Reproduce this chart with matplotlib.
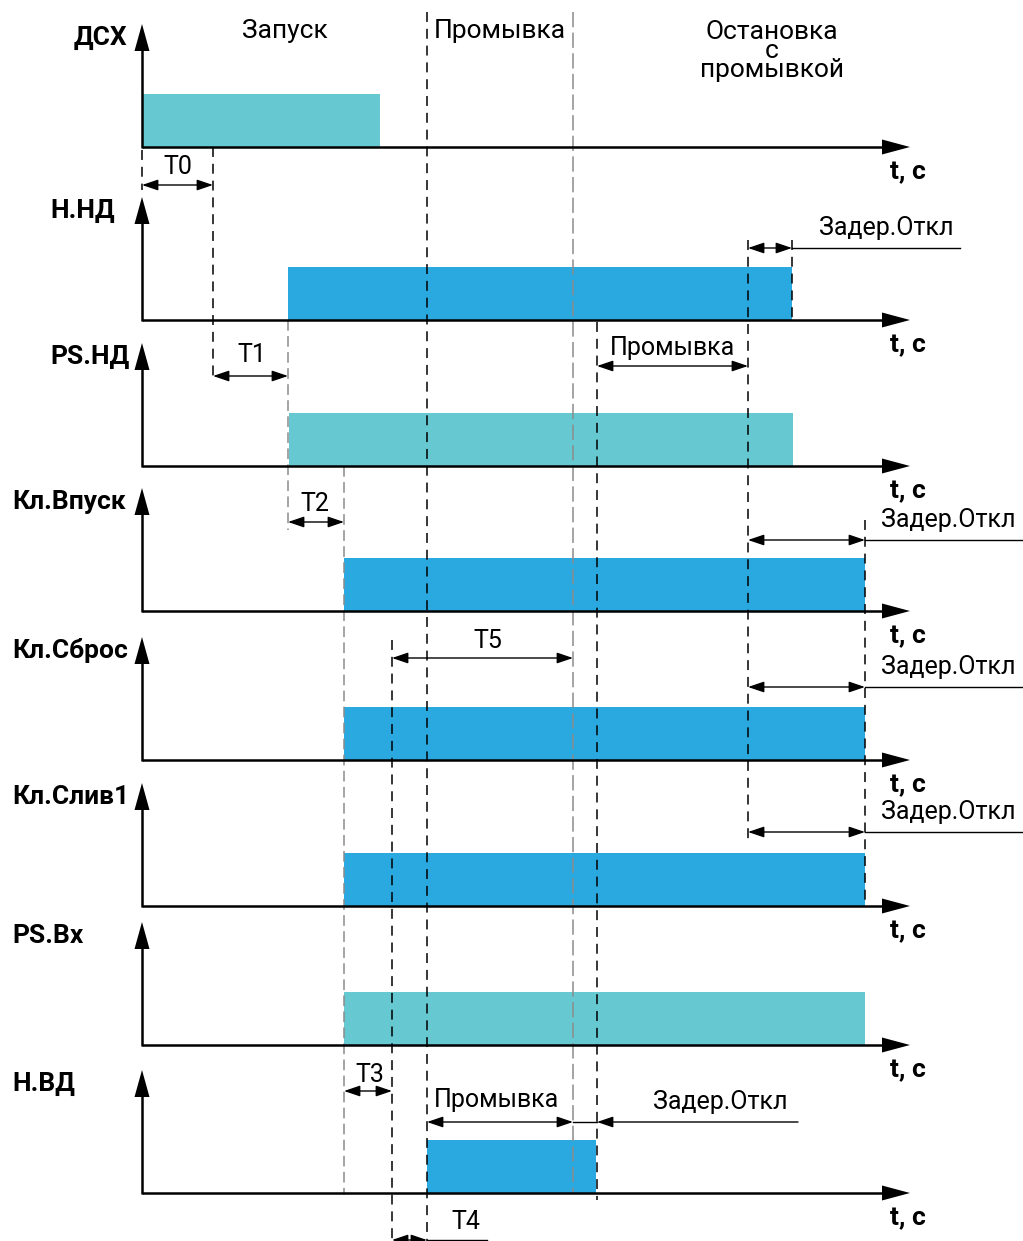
import matplotlib.pyplot as plt

# сигналы и интервалы включения (время в условных единицах, 0 = начало оси)
signals = ['ДСХ', 'Н.НД', 'PS.НД', 'Кл.Впуск', 'Кл.Сброс', 'Кл.Слив1', 'PS.Вх', 'Н.ВД']
on_start = [1, 146, 147, 202, 202, 202, 202, 285]
on_end = [238, 650, 651, 723, 723, 723, 723, 454]
kind = ['ps', 'out', 'ps', 'out', 'out', 'out', 'ps', 'out']

# моменты событий
t_T0, t_T1, t_T2, t_T3, t_T4 = 71, 146, 202, 250, 285
t_T5 = 431
t_flush_end = 455
t_stop = 606
t_nnd_off = 650
t_valve_off = 723
t_axis_end = 768

phases = ['Запуск', 'Промывка', 'Остановка\nс\nпромывкой']

W, H = 1023, 1241
X0 = 142
baselines = [147, 320, 466, 611, 760, 906, 1045, 1193]
label_left = [74, 50, 50, 12, 12, 12, 12, 12]
BAR_H = 53

C_PS = '#66C8D0'
C_OUT = '#29A9E0'
GREY = '#8c8c8c'

plt.rcParams['font.family'] = ['Roboto', 'DejaVu Sans']

fig = plt.figure(figsize=(W / 100, H / 100), dpi=100)
ax = fig.add_axes([0, 0, 1, 1])
ax.set_xlim(-X0, W - X0)
ax.set_ylim(H, 0)
ax.axis('off')

# оси и полосы
for i, name in enumerate(signals):
    y0 = baselines[i]
    color = C_PS if kind[i] == 'ps' else C_OUT
    ax.fill_between([on_start[i], on_end[i]], y0, y0 - BAR_H, color=color, lw=0, zorder=1)
    ax.plot([0, t_axis_end - 20], [y0, y0], color='black', lw=1.8, zorder=4, solid_capstyle='butt')
    ax.plot([0, 0], [y0 + 0.9, y0 - 100], color='black', lw=1.8, zorder=4, solid_capstyle='butt')
    ax.fill([0, -7.5, 7.5], [y0 - 123, y0 - 96, y0 - 96], color='black', lw=0, zorder=4)
    ax.fill([t_axis_end, t_axis_end - 28, t_axis_end - 28], [y0, y0 - 7.5, y0 + 7.5],
            color='black', lw=0, zorder=4)
    ax.text(label_left[i] - X0, y0 - 102, name, fontsize=19, fontweight='bold',
            ha='left', va='baseline')
    ax.text(t_axis_end - 20, y0 + 25, 't, c', fontsize=19, fontweight='bold',
            ha='left', va='center')

# пунктирные вертикали: (время, верх, низ, цвет, штрих)
dash_k = (0, (6.5, 4.5))
dash_g = (0, (7, 3.5))
dash_long = (0, (10, 3.5))
vlines = [
    (0, 150, 190, 'black', dash_k),
    (t_T0, 147, 382, 'black', dash_k),
    (t_T1, 320, 530, GREY, dash_g),
    (t_T2, 466, 1195, GREY, dash_g),
    (t_T3, 640, 1241, 'black', dash_k),
    (t_T4, 12, 1241, 'black', dash_k),
    (t_T5, 12, 1193, GREY, dash_long),
    (t_flush_end, 322, 1200, 'black', dash_k),
    (t_stop, 240, 840, 'black', dash_k),
    (t_nnd_off, 240, 320, 'black', dash_k),
    (t_valve_off, 520, 906, 'black', dash_k),
]
for t, y1, y2, c, ls in vlines:
    ax.plot([t, t], [y1, y2], color=c, lw=1.1, linestyle=ls, zorder=3)


def dim(t1, t2, y, style='<|-|>'):
    ax.annotate('', xy=(t2, y), xytext=(t1, y),
                arrowprops=dict(arrowstyle=style + ',head_length=0.65,head_width=0.22',
                                mutation_scale=15, color='black', lw=1.0,
                                shrinkA=0, shrinkB=0), zorder=5)


def label(x, y, s):
    ax.text(x - X0, y, s, fontsize=18, ha='center', va='center', zorder=6)


# размерные стрелки
dim(0, t_T0, 185); label(178, 167, 'T0')
dim(t_T0, t_T1, 376); label(252, 355, 'T1')
dim(t_T1, t_T2, 522); label(315, 504, 'T2')
dim(t_T3, t_T5, 658); label(488, 641, 'T5')
dim(t_T2, t_T3, 1091); label(370, 1075, 'T3')
dim(t_T3, t_T4, 1240)
ax.plot([t_T4, t_T4 + 60], [1240, 1240], color='black', lw=1.0)
label(466, 1222, 'T4')

dim(t_flush_end, t_stop, 366); label(673, 348, 'Промывка')

dim(t_stop, t_nnd_off, 248)
ax.plot([t_nnd_off, 960 - X0], [248, 248], color='black', lw=1.0)
label(886, 228, 'Задер.Откл')

for y in [540, 687, 832]:
    dim(t_stop, t_valve_off, y)
    ax.plot([t_valve_off, W - X0], [y, y], color='black', lw=1.0)
    label(948, y - 20, 'Задер.Откл')

dim(t_T4, t_T5, 1122); label(497, 1100, 'Промывка')
ax.plot([t_T5, t_flush_end], [1122, 1122], color='black', lw=1.0)
dim(798 - X0, t_flush_end, 1122, style='-|>')
label(720, 1102, 'Задер.Откл')

# фазы
ax.text(285 - X0, 31, phases[0], fontsize=19, ha='center', va='center')
ax.text(500 - X0, 31, phases[1], fontsize=19, ha='center', va='center')
ax.text(772 - X0, 51, phases[2], fontsize=19, ha='center', va='center', linespacing=0.74)

fig.savefig('out.png', dpi=100)
